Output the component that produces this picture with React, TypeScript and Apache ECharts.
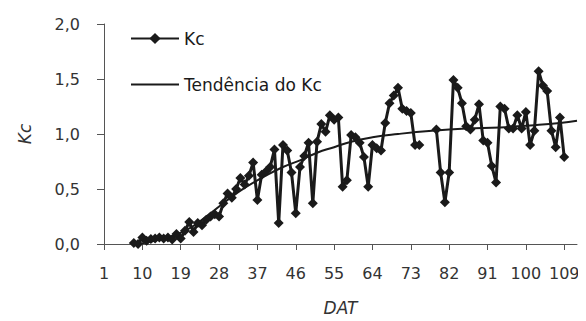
import React, { useEffect, useRef } from "react";
import * as echarts from "echarts";

// Categories: days after transplanting (DAT)
const firstDay = 1;
const lastDay = 112;
const dayCategories: string[] = [];
for (let d = firstDay; d <= lastDay; d++) dayCategories.push(String(d));

// Kc observed values, days 8..109 (null = no reading)
const kcStartDay = 8;
const kcValues: (number | null)[] = [
  0.01, 0.0, 0.06, 0.03, 0.045, 0.05, 0.06, 0.05, 0.06, 0.04, // 8-17
  0.09, 0.05, 0.12, 0.2, 0.11, 0.19, 0.17, 0.22, 0.25, 0.27, // 18-27
  0.25, 0.37, 0.46, 0.42, 0.5, 0.6, 0.54, 0.62, 0.74, 0.4, // 28-37
  0.63, 0.66, 0.7, 0.86, 0.19, 0.9, 0.85, 0.65, 0.28, 0.7, // 38-47
  0.8, 0.92, 0.37, 0.93, 1.09, 1.02, 1.17, 1.13, 1.15, 0.52, // 48-57
  0.58, 0.99, 0.97, 0.92, 0.79, 0.52, 0.9, 0.87, 0.85, 1.1, // 58-67
  1.28, 1.35, 1.42, 1.23, 1.21, 1.19, 0.9, 0.9, null, null, // 68-77
  null, 1.04, 0.65, 0.38, 0.65, 1.49, 1.42, 1.28, 1.07, 1.04, // 78-87
  1.13, 1.27, 0.94, 0.92, 0.71, 0.56, 1.25, 1.23, 1.05, 1.05, // 88-97
  1.17, 1.05, 1.2, 0.9, 1.03, 1.57, 1.44, 1.39, 1.03, 0.88, // 98-107
  1.15, 0.79, // 108-109
];

// Trend line of Kc (read at selected days)
const trendDays = [9, 14, 20, 25, 30, 34, 38, 43, 47, 51, 55, 59, 64, 70, 78, 86, 94, 102, 108, 112];
const trendValues = [0.0, 0.04, 0.12, 0.25, 0.4, 0.51, 0.6, 0.7, 0.76, 0.83, 0.88, 0.93, 0.97, 1.0, 1.03, 1.05, 1.06, 1.08, 1.1, 1.12];

const yTicks = { min: 0, max: 2, interval: 0.5 };

const seriesNames = ["Kc", "Tendência do Kc"];

export default function App() {
  const ref = useRef<HTMLDivElement>(null);
  useEffect(() => {
    if (!ref.current) return;
    const chart = echarts.init(ref.current, undefined, { renderer: "svg" });
    const font = "DejaVu Sans";
    const kcData = dayCategories.map((c) => {
      const d = Number(c);
      const i = d - kcStartDay;
      if (i < 0 || i >= kcValues.length) return null;
      return kcValues[i];
    });
    const trendData = trendDays.map((d, i) => [String(d), trendValues[i]]);
    chart.setOption({
      animation: false,
      backgroundColor: "#ffffff",
      grid: { left: 91, right: 9, top: 16, bottom: 77, containLabel: false },
      legend: {
        data: [
          { name: seriesNames[0] },
          { name: seriesNames[1], itemStyle: { opacity: 0 } },
        ],
        orient: "vertical",
        left: 117,
        top: 17,
        itemWidth: 48,
        itemHeight: 14,
        itemGap: 29,
        textStyle: { fontFamily: font, fontSize: 17, color: "#1a1a1a" },
      },
      xAxis: {
        type: "category",
        data: dayCategories,
        boundaryGap: false,
        axisLine: { lineStyle: { color: "#555", width: 1 } },
        axisTick: { interval: 8, length: 6, lineStyle: { color: "#555" } },
        axisLabel: {
          interval: 8,
          fontFamily: font,
          fontSize: 16,
          color: "#333",
          margin: 21,
        },
        splitLine: { show: false },
        name: "DAT",
        nameLocation: "middle",
        nameGap: 55,
        nameTextStyle: { fontFamily: font, fontSize: 17, fontStyle: "italic", color: "#333" },
      },
      yAxis: {
        type: "value",
        min: yTicks.min,
        max: yTicks.max,
        interval: yTicks.interval,
        axisLine: { show: true, lineStyle: { color: "#555", width: 1 } },
        axisTick: { show: true, length: 7, lineStyle: { color: "#555" } },
        axisLabel: {
          fontFamily: font,
          fontSize: 16,
          color: "#333",
          margin: 24,
          formatter: (v: number) => v.toFixed(1).replace(".", ","),
        },
        splitLine: { show: false },
        name: "Kc",
        nameLocation: "middle",
        nameGap: 71,
        nameRotate: 90,
        nameTextStyle: { fontFamily: font, fontSize: 17, fontStyle: "italic", color: "#333" },
      },
      series: [
        {
          name: seriesNames[0],
          type: "line",
          data: kcData,
          symbol: "diamond",
          symbolSize: 10,
          showSymbol: true,
          showAllSymbol: true,
          connectNulls: false,
          lineStyle: { color: "#1a1a1a", width: 3 },
          itemStyle: { color: "#1a1a1a" },
        },
        {
          name: seriesNames[1],
          type: "line",
          data: trendData,
          symbol: "none",
          showSymbol: false,
          smooth: true,
          lineStyle: { color: "#1a1a1a", width: 2 },
          itemStyle: { color: "#1a1a1a" },
        },
      ],
    });
    return () => chart.dispose();
  }, []);
  return <div ref={ref} style={{ width: 578, height: 313 }} />;
}
